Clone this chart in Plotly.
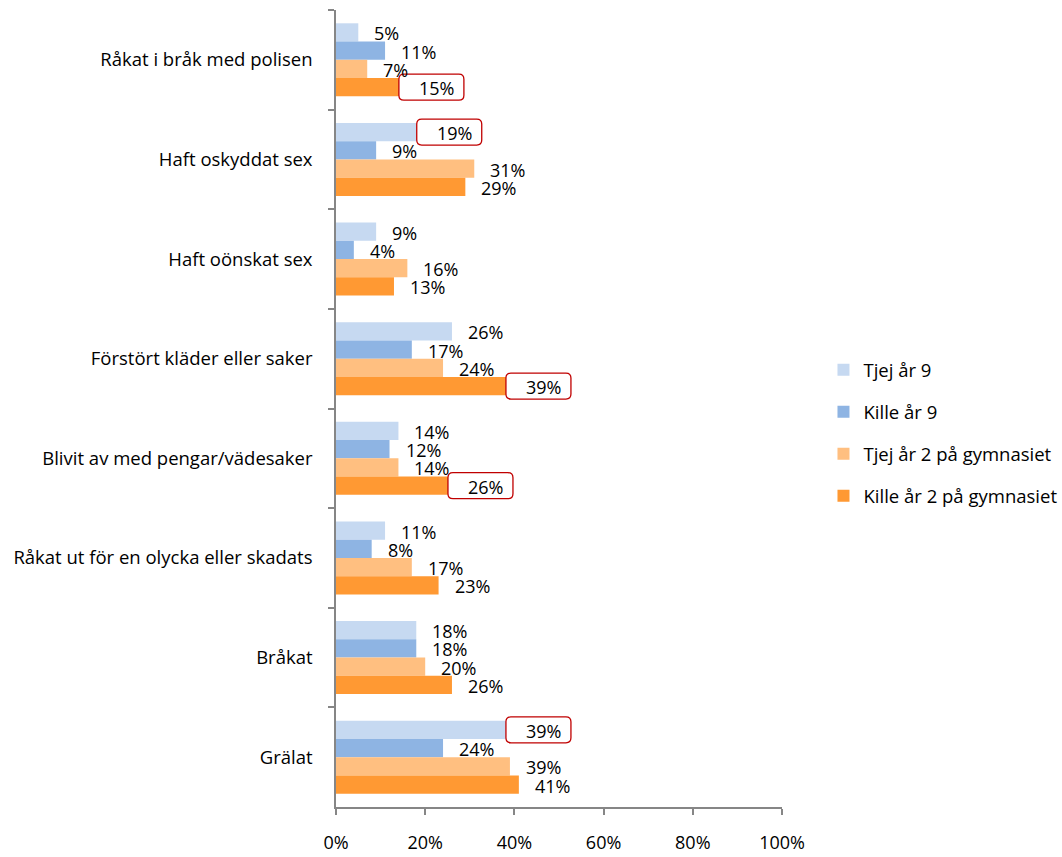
import plotly.graph_objects as go

categories = [
    "Råkat i bråk med polisen",
    "Haft oskyddat sex",
    "Haft oönskat sex",
    "Förstört kläder eller saker",
    "Blivit av med pengar/vädesaker",
    "Råkat ut för en olycka eller skadats",
    "Bråkat",
    "Grälat",
]
series_names = ["Tjej år 9", "Kille år 9", "Tjej år 2 på gymnasiet", "Kille år 2 på gymnasiet"]
tjej9 = [5, 19, 9, 26, 14, 11, 18, 39]
kille9 = [11, 9, 4, 17, 12, 8, 18, 24]
tjej2 = [7, 31, 16, 24, 14, 17, 20, 39]
kille2 = [15, 29, 13, 39, 26, 23, 26, 41]
series_values = [tjej9, kille9, tjej2, kille2]
colors = ["#C6D9F1", "#8EB4E3", "#FFBF80", "#FF9933"]
# (category index, series index) of highlighted labels
highlights = [(0, 3), (1, 0), (3, 3), (4, 3), (7, 0)]
x_ticks = [0, 20, 40, 60, 80, 100]

FONT = "Open Sans"
BARGAP = 0.267
n_series = len(series_names)
bar_w = (1 - BARGAP) / n_series

fig = go.Figure()
for name, vals, col in zip(series_names, series_values, colors):
    fig.add_trace(go.Bar(
        y=categories, x=vals, name=name, orientation="h",
        marker=dict(color=col, line=dict(width=0)),
        legendgroup=name,
    ))

annotations = []
shapes = []
hl = set(highlights)
for si, vals in enumerate(series_values):
    off = -(1 - BARGAP) / 2 + (si + 0.5) * bar_w
    for ci, v in enumerate(vals):
        yc = ci + off
        if (ci, si) in hl:
            r = 5
            x0, x1, y0, y1 = -4, 61, -13, 13
            path = (f"M{x0+r},{y0} L{x1-r},{y0} Q{x1},{y0} {x1},{y0+r} "
                    f"L{x1},{y1-r} Q{x1},{y1} {x1-r},{y1} L{x0+r},{y1} "
                    f"Q{x0},{y1} {x0},{y1-r} L{x0},{y0+r} Q{x0},{y0} {x0+r},{y0} Z")
            shapes.append(dict(
                type="path", xref="x", yref="y", xsizemode="pixel", ysizemode="pixel",
                xanchor=v, yanchor=yc, path=path,
                line=dict(color="#C00000", width=1.3), fillcolor="white", layer="above",
            ))
        annotations.append(dict(
            x=v, y=yc, xref="x", yref="y", text=f"{v}%", showarrow=False,
            xanchor="left", yanchor="middle", xshift=14, yshift=-1,
            font=dict(family=FONT, size=18, color="black"),
        ))

fig.update_layout(
    width=1062, height=857,
    margin=dict(l=336, r=280, t=10, b=50, autoexpand=False),
    paper_bgcolor="white", plot_bgcolor="white",
    barmode="group", bargap=BARGAP, bargroupgap=0,
    font=dict(family=FONT, size=17, color="black"),
    shapes=shapes, annotations=annotations,
    legend=dict(
        x=1.093, y=0.572, xanchor="left", yanchor="top",
        font=dict(family=FONT, size=18.5), tracegroupgap=15,
        bgcolor="rgba(0,0,0,0)",
    ),
    showlegend=True,
)
fig.update_yaxes(
    type="category", autorange="reversed", automargin=False,
    showline=True, linecolor="#868686", linewidth=1.5,
    ticks="outside", tickson="boundaries", ticklen=6, tickcolor="#868686", tickwidth=1.5,
    ticklabelstandoff=18, showgrid=False, zeroline=False,
    tickfont=dict(family=FONT, size=18.5),
)
fig.update_xaxes(
    range=[0, 100], tickvals=x_ticks, ticktext=[f"{t}%" for t in x_ticks], automargin=False,
    showline=True, linecolor="#868686", linewidth=1.5,
    ticks="outside", ticklen=6, tickcolor="#868686", tickwidth=1.5,
    ticklabelstandoff=13, showgrid=False, zeroline=False,
    tickfont=dict(family=FONT, size=18),
)

fig.write_html("out.html", config={"displayModeBar": False},
               post_script="document.body.style.margin='0';")
